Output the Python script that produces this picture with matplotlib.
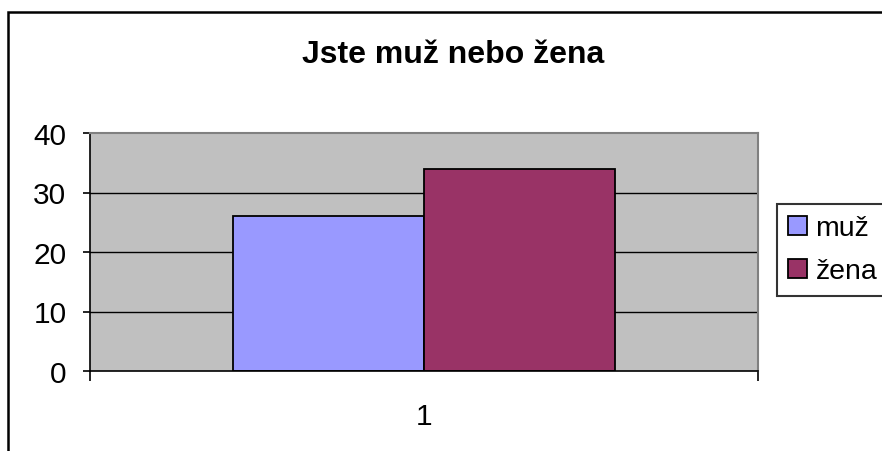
import matplotlib.pyplot as plt
from matplotlib.patches import Rectangle

plt.rcParams['font.family'] = ['Liberation Sans', 'DejaVu Sans']

# data
categories = ['1']
series_names = ['muž', 'žena']
series_values = [26, 34]
series_colors = ['#9999FF', '#993366']
y_ticks = [0, 10, 20, 30, 40]

W, H = 882, 452
fig = plt.figure(figsize=(W / 100, H / 100), dpi=100)

# outer chart frame (runs off the right and bottom edge)
top = 1 - 13 / H
fig.patches.append(Rectangle((8 / W, -0.2), 1.2, top + 0.2,
                             transform=fig.transFigure, fill=False,
                             edgecolor='black', linewidth=1.8))

ax = fig.add_axes([90 / W, 1 - 372 / H, 668 / W, 238 / H])
ax.set_facecolor('#C0C0C0')

bar_w = 0.286
offsets = [-bar_w / 2, bar_w / 2]
for name, val, col, off in zip(series_names, series_values, series_colors, offsets):
    ax.bar(1 + off, val, width=bar_w, color=col, edgecolor='black',
           linewidth=1.3, label=name, zorder=3)

ax.set_xlim(0.5, 1.5)
ax.set_ylim(0, 40)
ax.set_yticks(y_ticks)
ax.set_yticklabels([str(t) for t in y_ticks])
for t in y_ticks[1:-1]:
    ax.axhline(t, color='black', linewidth=1.0, zorder=1)

ax.set_xticks([1])
ax.set_xticklabels(categories)
ax.set_xticks([0.5, 1.5], minor=True)
ax.tick_params(axis='x', which='major', length=0, pad=22, labelsize=21.5)
ax.tick_params(axis='x', which='minor', length=7, width=1.2, direction='out')
ax.tick_params(axis='y', length=5, width=1.2, direction='out', pad=12, labelsize=21.5)

for side in ['top', 'right']:
    ax.spines[side].set_color('#808080')
    ax.spines[side].set_linewidth(1.5)
for side in ['left', 'bottom']:
    ax.spines[side].set_color('black')
    ax.spines[side].set_linewidth(1.2)
ax.spines['bottom'].set_zorder(4)

fig.text(453 / W, 1 - 55 / H, 'Jste muž nebo žena', ha='center', va='center',
         fontsize=23, fontweight='bold')

leg = fig.legend(loc='upper left', bbox_to_anchor=(777 / W, 1 - 205 / H),
                 fontsize=20.5, frameon=True, fancybox=False, borderaxespad=0,
                 handlelength=0.65, handleheight=0.65, handletextpad=0.3,
                 labelspacing=0.6, borderpad=0.4)
leg.get_frame().set_edgecolor('black')
leg.get_frame().set_linewidth(1.5)

fig.savefig('out.png', dpi=100)
